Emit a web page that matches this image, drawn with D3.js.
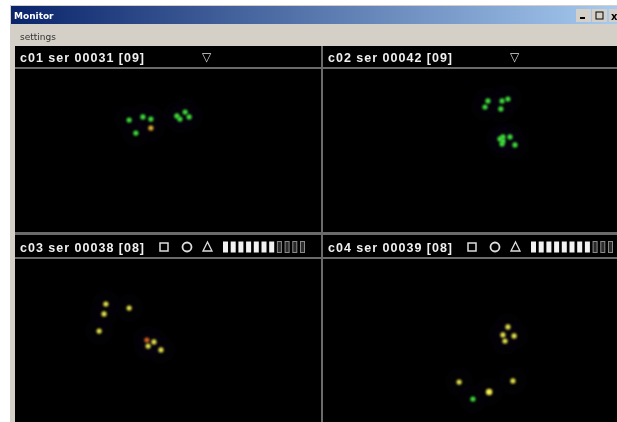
<!DOCTYPE html>
<html>
<head>
<meta charset="utf-8">
<script src="https://cdn.jsdelivr.net/npm/d3@7"></script>
<style>
  body { margin: 0; background: #fff; }
  svg { display: block; filter: blur(0.45px); }
</style>
</head>
<body>
<svg width="617" height="422"></svg>
<script>
// panel titles and point readings (percent of plot area)
var titles = ["c01 ser 00031 [09]", "c02 ser 00042 [09]", "c03 ser 00038 [08]", "c04 ser 00039 [08]"];
var levels = [null, null, 7, 8];   // filled level bars (out of 11), null = no icons
var p1 = [[37.3,31.3,"g"],[41.8,29.4,"g"],[44.4,30.7,"g"],[44.4,36.2,"o"],[39.5,39.3,"g"],
          [52.9,28.8,"g"],[55.6,26.4,"g"],[53.9,30.7,"g"],[56.9,29.4,"g"]];
var p2 = [[56.1,19.6,"g"],[55.1,23.3,"g"],[60.9,19.6,"g"],[62.9,18.4,"g"],[60.5,24.5,"g"],
          [61.2,41.7,"g"],[63.6,41.7,"g"],[60.9,46.0,"g"],[61.2,44.2,"g"],[65.3,46.6,"g"],[60.2,42.9,"g"]];
var p3 = [[29.7,27.6,"y"],[29.1,33.7,"y"],[37.3,30.1,"y"],[27.5,44.2,"y"],
          [43.1,49.7,"r"],[45.4,50.9,"y"],[43.5,53.4,"y"],[47.7,55.8,"y"]];
var p4 = [[62.9,41.7,"y"],[61.2,46.6,"y"],[65.0,47.2,"y"],[61.9,50.3,"y"],
          [46.3,75.5,"y"],[56.5,81.6,"Y"],[64.6,74.8,"y"],[51.0,85.9,"g"]];
var points = [p1, p2, p3, p4];
var colors = {g: "#3fdc3a", o: "#e0b030", y: "#e2e048", Y: "#f4ec50", r: "#d06020"};

var svg = d3.select("svg");
var defs = svg.append("defs");
var grad = defs.append("linearGradient").attr("id", "tb");
grad.append("stop").attr("offset", "0%").attr("stop-color", "#0a246a");
grad.append("stop").attr("offset", "100%").attr("stop-color", "#a6caf0");

// window frame
svg.append("rect").attr("x", 10).attr("y", 5).attr("width", 607).attr("height", 417).attr("fill", "#d4d0c8");
svg.append("rect").attr("x", 11).attr("y", 6).attr("width", 606).attr("height", 18).attr("fill", "url(#tb)");
svg.append("text").attr("x", 14).attr("y", 19).attr("fill", "#fff")
  .style("font", "bold 9px 'DejaVu Sans'").text("Monitor");
// caption buttons
[576, 592].forEach(function(bx, i) {
  svg.append("rect").attr("x", bx).attr("y", 9).attr("width", 15).attr("height", 13).attr("fill", "#d4d0c8");
});
svg.append("rect").attr("x", 580).attr("y", 17).attr("width", 5).attr("height", 2).attr("fill", "#000");
svg.append("rect").attr("x", 596).attr("y", 12).attr("width", 7).attr("height", 7).attr("fill", "none").attr("stroke", "#000");
svg.append("rect").attr("x", 609).attr("y", 9).attr("width", 10).attr("height", 13).attr("fill", "#d4d0c8");
svg.append("text").attr("x", 611).attr("y", 20).style("font", "bold 10px 'DejaVu Sans'").text("x");
svg.append("text").attr("x", 20).attr("y", 40).attr("fill", "#333")
  .style("font", "9px 'DejaVu Sans'").text("settings");

// client area
svg.append("rect").attr("x", 15).attr("y", 46).attr("width", 602).attr("height", 376).attr("fill", "#000");

var cells = [
  {x0: 15, x1: 321, y0: 46},
  {x0: 323, x1: 617, y0: 46},
  {x0: 15, x1: 321, y0: 236},
  {x0: 323, x1: 617, y0: 236}
];
var headH = 21, plotH = 163;

var glow = defs.append("filter").attr("id", "glow").attr("x", "-1").attr("y", "-1").attr("width", "3").attr("height", "3");
glow.append("feGaussianBlur").attr("stdDeviation", 0.8);

cells.forEach(function(c, i) {
  var g = svg.append("g");
  var py0 = c.y0 + headH + 2;
  // header separator lines
  g.append("rect").attr("x", c.x0).attr("y", c.y0 + headH).attr("width", c.x1 - c.x0).attr("height", 2).attr("fill", "#6a6a6a");
  if (i >= 2) g.append("rect").attr("x", c.x0).attr("y", c.y0 - 3).attr("width", c.x1 - c.x0).attr("height", 2).attr("fill", "#6a6a6a");
  g.append("text").attr("x", c.x0 + 5).attr("y", c.y0 + 15.5).attr("fill", "#f0f0f0")
    .style("font", "bold 12.5px 'Liberation Sans'").style("letter-spacing", "1px").text(titles[i]);

  if (levels[i] == null) {
    g.append("text").attr("x", c.x0 + 187).attr("y", c.y0 + 15).attr("fill", "#ddd")
      .style("font", "12px 'DejaVu Sans'").text("\u25BD");
  } else {
    var ix = c.x0 + 145;
    g.append("rect").attr("x", ix).attr("y", c.y0 + 7).attr("width", 8).attr("height", 8)
      .attr("fill", "none").attr("stroke", "#ddd").attr("stroke-width", 1.5);
    g.append("circle").attr("cx", ix + 27).attr("cy", c.y0 + 11).attr("r", 4.5)
      .attr("fill", "none").attr("stroke", "#ddd").attr("stroke-width", 1.8);
    g.append("path").attr("d", "M" + (ix + 43) + "," + (c.y0 + 15) + " l4.5,-9 l4.5,9 z")
      .attr("fill", "none").attr("stroke", "#ddd").attr("stroke-width", 1.3);
    var bx = d3.scaleBand().domain(d3.range(11)).range([ix + 63, ix + 145]).paddingInner(0.35);
    g.selectAll(".lv").data(d3.range(11)).enter().append("rect")
      .attr("x", function(d) { return bx(d) + (d < levels[i] ? 0 : 0.5); })
      .attr("y", c.y0 + 5.5).attr("width", function(d) { return bx.bandwidth() - (d < levels[i] ? 0 : 1); })
      .attr("height", 11)
      .attr("fill", function(d) { return d < levels[i] ? "#f2f2f2" : "#2a2a2a"; })
      .attr("stroke", function(d) { return d < levels[i] ? "none" : "#8a8a8a"; });
  }

  var x = d3.scaleLinear().domain([0, 100]).range([c.x0, c.x1]);
  var y = d3.scaleLinear().domain([0, 100]).range([py0, py0 + plotH]);
  var pts = points[i];
  // faint halos around the spots
  g.selectAll(".halo").data(pts).enter().append("circle")
    .attr("cx", function(d) { return x(d[0]); })
    .attr("cy", function(d) { return y(d[1]); })
    .attr("r", 14).attr("fill", "#0c0818").attr("opacity", 0.15);
  g.selectAll(".pt").data(pts).enter().append("circle")
    .attr("cx", function(d) { return x(d[0]); })
    .attr("cy", function(d) { return y(d[1]); })
    .attr("r", function(d) { return d[2] === "Y" ? 3.2 : 2.6; })
    .attr("fill", function(d) { return colors[d[2]]; })
    .attr("filter", "url(#glow)");
});

// vertical divider and horizontal divider
svg.append("rect").attr("x", 321).attr("y", 46).attr("width", 2).attr("height", 376).attr("fill", "#6a6a6a");
svg.append("rect").attr("x", 15).attr("y", 232).attr("width", 602).attr("height", 2).attr("fill", "#6a6a6a");
</script>
</body>
</html>
